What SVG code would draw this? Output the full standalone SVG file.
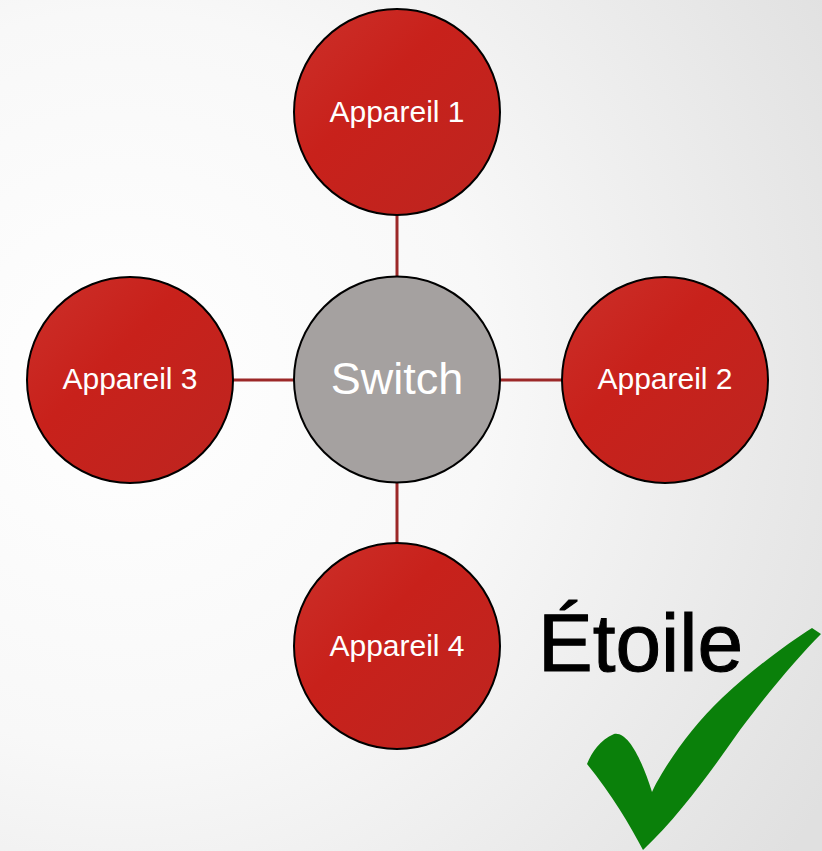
<svg xmlns="http://www.w3.org/2000/svg" width="822" height="851" viewBox="0 0 822 851">
<defs>
<radialGradient id="bg" cx="120" cy="380" r="820" gradientUnits="userSpaceOnUse">
<stop offset="0" stop-color="#ffffff"/>
<stop offset="0.45" stop-color="#f8f8f8"/>
<stop offset="1" stop-color="#e0e0e0"/>
</radialGradient>
<linearGradient id="red" x1="0" y1="0" x2="1" y2="1">
<stop offset="0" stop-color="#cc302a"/>
<stop offset="0.4" stop-color="#c8211b"/>
<stop offset="1" stop-color="#bd2520"/>
</linearGradient>
<style>
.dev{fill:url(#red);stroke:#000;stroke-width:2}
.sw{fill:#a5a1a0;stroke:#000;stroke-width:2}
.lbl{font-family:"Liberation Sans",Arial,sans-serif;font-size:30px;fill:#fff;text-anchor:middle}
.conn line{stroke:#9c2828;stroke-width:3}
</style>
</defs>
<rect width="822" height="851" fill="url(#bg)"/>
<g id="connectors" class="conn">
<line x1="397" y1="215" x2="397" y2="277"/>
<line x1="397" y1="482" x2="397" y2="544"/>
<line x1="232" y1="380" x2="295" y2="380"/>
<line x1="499" y1="380" x2="563" y2="380"/>
</g>
<g id="switch">
<circle class="sw" cx="397" cy="379.5" r="103"/>
<text class="lbl" x="397" y="394" style="font-size:45px">Switch</text>
</g>
<g id="appareil1">
<circle class="dev" cx="397" cy="112" r="103"/>
<text class="lbl" x="397" y="122">Appareil 1</text>
</g>
<g id="appareil2">
<circle class="dev" cx="665" cy="380" r="103"/>
<text class="lbl" x="665" y="389">Appareil 2</text>
</g>
<g id="appareil3">
<circle class="dev" cx="130" cy="380" r="103"/>
<text class="lbl" x="130" y="389">Appareil 3</text>
</g>
<g id="appareil4">
<circle class="dev" cx="397" cy="646" r="103"/>
<text class="lbl" x="397" y="656">Appareil 4</text>
</g>
<g id="label">
<text x="538" y="671" font-family="'Liberation Sans',Arial,sans-serif" font-size="82" fill="#000" stroke="#000" stroke-width="1">Étoile</text>
<path fill="#0a800a" d="M652,792 C662,770 690,728 722,698 C755,667 790,642 812,628 L821,634 C800,655 770,690 740,730 C712,770 680,815 643,850 C630,825 612,795 587,764 C592,752 600,740 614,734 C628,731 642,760 652,792 Z"/>
</g>
</svg>
